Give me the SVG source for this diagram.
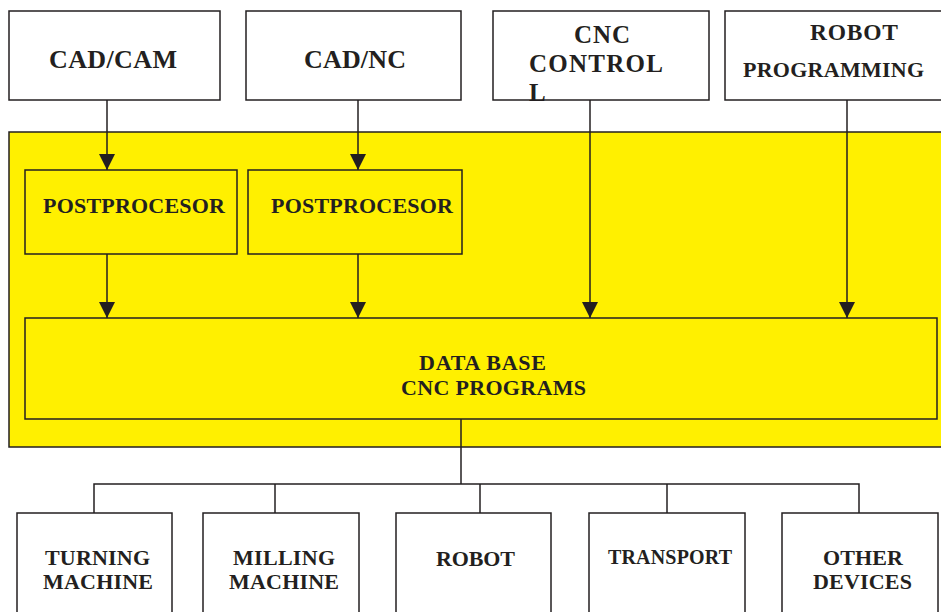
<svg xmlns="http://www.w3.org/2000/svg" width="941" height="612" viewBox="0 0 941 612">
<defs>
<style>
.box{fill:#ffffff;stroke:#231f20;stroke-width:1.5}
.ybox{fill:#fff000;stroke:#231f20;stroke-width:1.5}
.t{font-family:"Liberation Serif","Times New Roman",serif;font-weight:bold;fill:#231f20}
.line{fill:none;stroke:#231f20;stroke-width:1.5}
</style>
<marker id="arr" markerUnits="userSpaceOnUse" markerWidth="18" markerHeight="16" refX="16" refY="8" orient="auto">
<path d="M0,0 L16,8 L0,16 Z" fill="#231f20"/>
</marker>
</defs>
<rect width="941" height="612" fill="#ffffff"/>
<g id="container">
<rect class="ybox" x="9" y="132" width="940" height="315"/>
</g>
<g id="cadcam">
<rect class="box" x="9" y="11" width="211" height="89"/>
<text class="t" x="49" y="68" font-size="26" textLength="128" lengthAdjust="spacing">CAD/CAM</text>
</g>
<g id="cadnc">
<rect class="box" x="246" y="11" width="215" height="89"/>
<text class="t" x="304" y="68" font-size="26" textLength="102" lengthAdjust="spacing">CAD/NC</text>
</g>
<g id="cnccontrol">
<rect class="box" x="493" y="11" width="216" height="89"/>
<text class="t" x="574" y="43" font-size="25" textLength="56" lengthAdjust="spacing">CNC</text>
<text class="t" x="529" y="72" font-size="25" textLength="134" lengthAdjust="spacing">CONTROL</text>
<text class="t" x="529" y="101" font-size="25">L</text>
</g>
<g id="robotprog">
<rect class="box" x="725" y="11" width="225" height="89"/>
<text class="t" x="810" y="40" font-size="23.5" textLength="88" lengthAdjust="spacing">ROBOT</text>
<text class="t" x="743" y="77" font-size="22" textLength="181" lengthAdjust="spacing">PROGRAMMING</text>
</g>
<g id="post1">
<rect class="ybox" x="25" y="170" width="212" height="84"/>
<text class="t" x="43" y="213" font-size="22" textLength="182" lengthAdjust="spacing">POSTPROCESOR</text>
</g>
<g id="post2">
<rect class="ybox" x="248" y="170" width="214" height="84"/>
<text class="t" x="271" y="213" font-size="22" textLength="182" lengthAdjust="spacing">POSTPROCESOR</text>
</g>
<g id="database">
<rect class="ybox" x="25" y="318" width="912" height="101"/>
<text class="t" x="419" y="370" font-size="22" textLength="127" lengthAdjust="spacing">DATA BASE</text>
<text class="t" x="401" y="395" font-size="22" textLength="185" lengthAdjust="spacing">CNC PROGRAMS</text>
</g>
<g id="turning">
<rect class="box" x="17" y="513" width="155" height="110"/>
<text class="t" x="45" y="565" font-size="22" textLength="105" lengthAdjust="spacing">TURNING</text>
<text class="t" x="43" y="589" font-size="22" textLength="110" lengthAdjust="spacing">MACHINE</text>
</g>
<g id="milling">
<rect class="box" x="203" y="513" width="156" height="110"/>
<text class="t" x="233" y="565" font-size="22" textLength="102" lengthAdjust="spacing">MILLING</text>
<text class="t" x="229" y="589" font-size="22" textLength="110" lengthAdjust="spacing">MACHINE</text>
</g>
<g id="robot">
<rect class="box" x="396" y="513" width="155" height="110"/>
<text class="t" x="436" y="566" font-size="22" textLength="79" lengthAdjust="spacing">ROBOT</text>
</g>
<g id="transport">
<rect class="box" x="589" y="513" width="156" height="110"/>
<text class="t" x="608" y="564" font-size="20" textLength="124" lengthAdjust="spacing">TRANSPORT</text>
</g>
<g id="other">
<rect class="box" x="782" y="513" width="156" height="110"/>
<text class="t" x="823" y="565" font-size="22" textLength="80" lengthAdjust="spacing">OTHER</text>
<text class="t" x="813" y="589" font-size="22" textLength="99" lengthAdjust="spacing">DEVICES</text>
</g>
<g id="connectors">
<line class="line" x1="107" y1="100" x2="107" y2="170" marker-end="url(#arr)"/>
<line class="line" x1="358" y1="100" x2="358" y2="170" marker-end="url(#arr)"/>
<line class="line" x1="107" y1="254" x2="107" y2="318" marker-end="url(#arr)"/>
<line class="line" x1="358" y1="254" x2="358" y2="318" marker-end="url(#arr)"/>
<line class="line" x1="590" y1="100" x2="590" y2="318" marker-end="url(#arr)"/>
<line class="line" x1="847" y1="100" x2="847" y2="318" marker-end="url(#arr)"/>
<line class="line" x1="461" y1="419" x2="461" y2="484"/>
<polyline class="line" points="94,513 94,484 859,484 859,513"/>
<line class="line" x1="275" y1="484" x2="275" y2="513"/>
<line class="line" x1="480" y1="484" x2="480" y2="513"/>
<line class="line" x1="667" y1="484" x2="667" y2="513"/>
</g>
</svg>
